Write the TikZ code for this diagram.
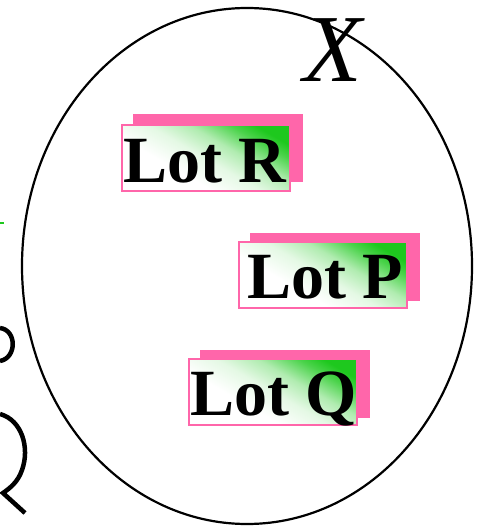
\documentclass[tikz,border=0pt]{standalone}
\usepackage{fontspec}
\usetikzlibrary{shapes.geometric}
\setmainfont{Liberation Serif}
\definecolor{lotpink}{RGB}{255,102,170}
\definecolor{lotgreen}{RGB}{30,200,30}
\pgfdeclareverticalshading{lotshade}{100bp}{color(0bp)=(white); color(38bp)=(white); color(50bp)=(lotgreen!12); color(60bp)=(lotgreen!35); color(70bp)=(lotgreen!80); color(76bp)=(lotgreen); color(100bp)=(lotgreen)}
\begin{document}
\begin{tikzpicture}[x=1pt,y=-1pt,
  shadowbox/.style={fill=lotpink, draw=none, minimum width=170pt, minimum height=68pt, inner sep=0pt},
  lotbox/.style={draw=lotpink, line width=2pt, shading=lotshade, shading angle=-30, minimum width=168pt, minimum height=66pt, inner sep=0pt},
  lottext/.style={font=\bfseries\fontsize{66}{66}\selectfont, inner sep=0pt, anchor=base},
  frag/.style={line width=4.5pt, line cap=butt}]
\useasboundingbox (0,0) rectangle (483,526);
% ellipse
\node[draw, line width=2.2pt, ellipse, minimum width=450pt, minimum height=516pt, inner sep=0pt] (X) at (247,266) {};
\node[font=\itshape\fontsize{96}{96}\selectfont, inner sep=0pt, anchor=base] (Xl) at (333,82) {X};
% Lot R
\node[shadowbox] (Rs) at (218,148.5) {};
\node[lotbox] (R) at (206,158.5) {};
\node[lottext] (Rt) at (205,183) {Lot R};
% Lot P
\node[shadowbox] (Ps) at (335,267) {};
\node[lotbox] (P) at (322.5,275) {};
\node[lottext] (Pt) at (325,298) {Lot P};
% Lot Q
\node[shadowbox] (Qs) at (285,384) {};
\node[lotbox] (Q) at (272.5,391.5) {};
\node[lottext] (Qt) at (273.5,415) {Lot Q};
% left fragments
\draw[lotgreen, line width=1.5pt] (0,223) -- (4,223);
\draw[frag] (0,328) .. controls (17,330) and (17,358) .. (0,361);
\draw[frag] (0,414) .. controls (22,420) and (30,448) .. (22,470)
  .. controls (18,482) and (10,488) .. (3,493) -- (25,513);
\end{tikzpicture}
\end{document}
